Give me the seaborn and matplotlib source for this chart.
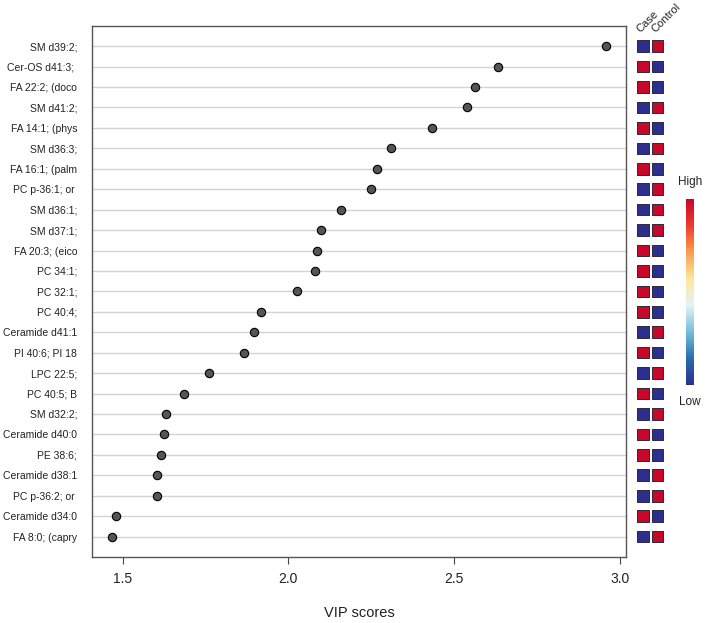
import matplotlib
matplotlib.use("Agg")
import matplotlib.pyplot as plt
import matplotlib.colors as mcolors
import matplotlib.cm as cm
import seaborn as sns
import pandas as pd

# features, top to bottom
features = ["SM d39:2;", "Cer-OS d41:3; ", "FA 22:2; (doco", "SM d41:2;", "FA 14:1; (phys",
            "SM d36:3;", "FA 16:1; (palm", "PC p-36:1; or ", "SM d36:1;", "SM d37:1;",
            "FA 20:3; (eico", "PC 34:1;", "PC 32:1;", "PC 40:4;", "Ceramide d41:1",
            "PI 40:6; PI 18", "LPC 22:5;", "PC 40:5; B", "SM d32:2;", "Ceramide d40:0",
            "PE 38:6;", "Ceramide d38:1", "PC p-36:2; or ", "Ceramide d34:0", "FA 8:0; (capry"]
vip = [2.957, 2.631, 2.563, 2.539, 2.432, 2.308, 2.266, 2.250, 2.159, 2.099,
       2.085, 2.079, 2.026, 1.916, 1.896, 1.865, 1.760, 1.684, 1.630, 1.626,
       1.616, 1.603, 1.603, 1.481, 1.469]
# relative level per group (1 = high, 0 = low)
case_level = [0, 1, 1, 0, 1, 0, 1, 0, 0, 0, 1, 1, 1, 1, 0, 1, 0, 1, 0, 1, 1, 0, 0, 1, 0]
control_level = [1, 0, 0, 1, 0, 1, 0, 1, 1, 1, 0, 0, 0, 0, 1, 0, 1, 0, 1, 0, 0, 1, 1, 0, 1]
groups = ["Case", "Control"]
xticks = [1.5, 2.0, 2.5, 3.0]

df = pd.DataFrame({"feature": features, "vip": vip})

sns.set_theme(style="white")
plt.rcParams["font.family"] = ["Liberation Sans", "DejaVu Sans"]

cmap = mcolors.LinearSegmentedColormap.from_list(
    "hl", ["#2c2f8e", "#2a6db0", "#74c0dc", "#e3f3f4", "#fee79a", "#fb9d50", "#ef3b2c", "#c8082a"])

fig = plt.figure(figsize=(7.05, 6.23), dpi=100)
ax = fig.add_axes([0.1312, 0.1059, 0.7563, 0.8528])

sns.stripplot(data=df, x="vip", y="feature", jitter=False, ax=ax, size=6,
              color="#555555", edgecolor="black", linewidth=0.8, zorder=3)
n = len(features)
ax.set_ylim(n, -1)
lo, hi = min(vip), max(vip)
span = hi - lo
ax.set_xlim(lo - 0.04 * span, hi + 0.04 * span)
ax.set_xticks(xticks)
ax.set_xticklabels([f"{t:.1f}" for t in xticks], fontsize=10, color="#222222")
ax.tick_params(axis="x", direction="out", length=5, width=0.8, pad=6, color="#444444", bottom=True)
ax.tick_params(axis="y", length=0, pad=11, labelsize=7.5, labelcolor="#222222")
ax.grid(axis="y", color="#d4d4d4", linewidth=1, zorder=0)
ax.grid(axis="x", visible=False)
ax.set_ylabel("")
ax.set_xlabel("VIP scores", fontsize=10.5, labelpad=14, color="#222222")
for s in ax.spines.values():
    s.set_color("#555555")
    s.set_linewidth(1)

# group level squares
hm = fig.add_axes([0.9016, 0.1059, 0.0417, 0.8528])
rows = list(range(n))
hm.scatter([0] * n, rows, c=case_level, cmap=cmap, vmin=0, vmax=1, marker="s",
           s=70, edgecolors="#2a2a3a", linewidths=0.7)
hm.scatter([1] * n, rows, c=control_level, cmap=cmap, vmin=0, vmax=1, marker="s",
           s=70, edgecolors="#2a2a3a", linewidths=0.7)
hm.set_xlim(-0.5, 1.5)
hm.set_ylim(n, -1)
hm.axis("off")
for i, g in enumerate(groups):
    hm.text(i - 0.15, -0.65, g, rotation=45, rotation_mode="anchor", ha="left",
            va="baseline", fontsize=8, color="#222222", clip_on=False)

# colour key
cax = fig.add_axes([0.973, 0.382, 0.012, 0.2986])
sm = cm.ScalarMappable(norm=mcolors.Normalize(0, 1), cmap=cmap)
cb = fig.colorbar(sm, cax=cax)
cb.set_ticks([])
cb.outline.set_visible(False)
fig.text(0.979, 1 - 182 / 623, "High", ha="center", va="center", fontsize=8.5, color="#222222")
fig.text(0.979, 1 - 402 / 623, "Low", ha="center", va="center", fontsize=8.5, color="#222222")

fig.savefig("out.png", dpi=100)
